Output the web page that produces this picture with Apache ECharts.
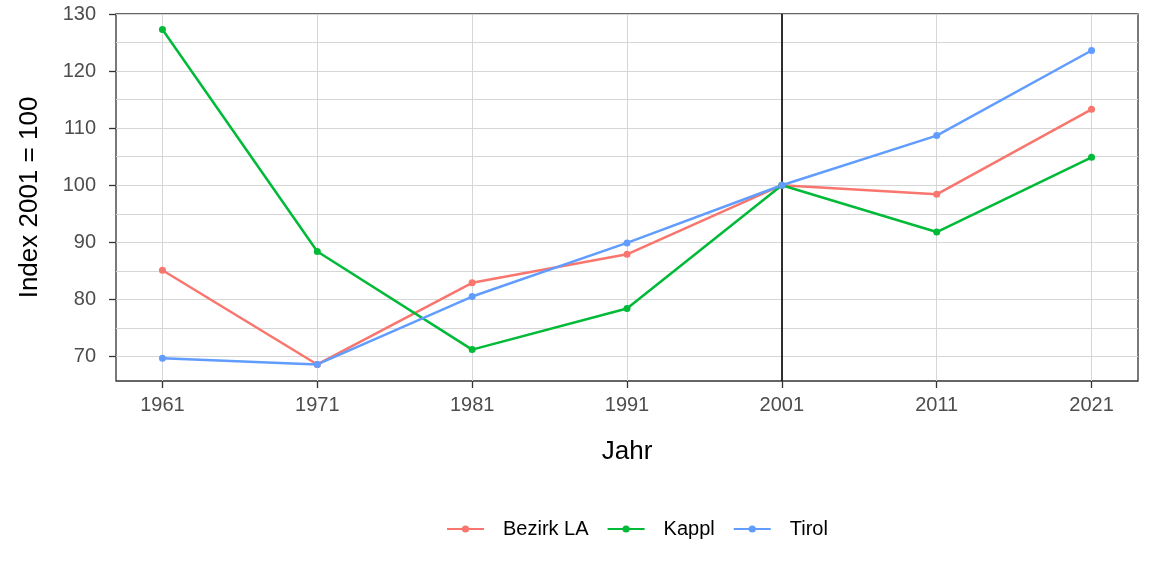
<!DOCTYPE html>
<html>
<head>
<meta charset="utf-8">
<script src="https://cdn.jsdelivr.net/npm/echarts@6/dist/echarts.min.js"></script>
<style>html,body{margin:0;padding:0;background:#fff}#c{width:1152px;height:576px}</style>
</head>
<body>
<div id="c"></div>
<script>
const years = [1961, 1971, 1981, 1991, 2001, 2011, 2021];
const bezirkLA = [85.1, 68.6, 82.9, 87.9, 100, 98.4, 113.3];
const kappl = [127.3, 88.4, 71.2, 78.4, 100, 91.8, 104.9];
const tirol = [69.7, 68.6, 80.5, 89.9, 100, 108.7, 123.6];
const seriesNames = ['Bezirk LA', 'Kappl', 'Tirol'];
const yTicks = [70, 80, 90, 100, 110, 120, 130];
const yGrid = [70, 75, 80, 85, 90, 95, 100, 105, 110, 115, 120, 125, 130];
const refYear = 2001;

const colors = ['#F8766D', '#00BA38', '#619CFF'];
const font = "'Liberation Sans', Arial, sans-serif";
const chart = echarts.init(document.getElementById('c'), null, {renderer: 'canvas'});

function mk(name, vals, i) {
  return {
    name: name, type: 'line', xAxisIndex: 0, yAxisIndex: 0,
    data: years.map((y, k) => [y, vals[k]]),
    symbol: 'circle', symbolSize: 7, showSymbol: true,
    lineStyle: {width: 2.5, color: colors[i]},
    itemStyle: {color: colors[i]},
    emphasis: {disabled: true}, animation: false, z: 3
  };
}
const series = [mk(seriesNames[0], bezirkLA, 0), mk(seriesNames[1], kappl, 1), mk(seriesNames[2], tirol, 2)];
series[0].markLine = {
  silent: true, symbol: 'none', animation: false, z: 2,
  label: {show: false},
  lineStyle: {color: '#000', width: 1.6, type: 'solid'},
  data: [{xAxis: refYear}]
};

chart.setOption({
  backgroundColor: '#fff',
  animation: false,
  color: colors,
  grid: {left: 116, right: 14, top: 14, bottom: 195, show: true, borderColor: '#333', borderWidth: 1.3, containLabel: false},
  legend: {
    data: seriesNames, left: 441, top: 514,
    itemWidth: 37, itemHeight: 9, itemGap: 18,
    textStyle: {fontFamily: font, fontSize: 20, color: '#000', padding: [0, 0, 0, 14]}
  },
  xAxis: [{
    type: 'value', min: 1958, max: 2024,
    name: 'Jahr', nameLocation: 'middle', nameGap: 58,
    nameTextStyle: {fontFamily: font, fontSize: 26, color: '#000'},
    axisLine: {show: false},
    axisTick: {show: true, length: 7, lineStyle: {color: '#333', width: 1.3}, customValues: years},
    axisLabel: {show: true, customValues: years, margin: 14, fontFamily: font, fontSize: 20, color: '#4d4d4d', formatter: v => String(v)},
    splitLine: {show: true, lineStyle: {color: '#d6d6d6', width: 1}}
  }],
  yAxis: [{
    type: 'value', min: 65.7, max: 130,
    name: 'Index 2001 = 100', nameLocation: 'middle', nameGap: 73,
    nameTextStyle: {fontFamily: font, fontSize: 26, color: '#000'},
    axisLine: {show: false},
    axisTick: {show: true, length: 7, lineStyle: {color: '#333', width: 1.3}, customValues: yTicks},
    axisLabel: {show: true, customValues: yTicks, margin: 20, fontFamily: font, fontSize: 20, color: '#4d4d4d'},
    splitLine: {show: false}
  }, {
    type: 'value', min: 65.7, max: 130, position: 'left',
    axisLine: {show: false}, axisTick: {show: false, customValues: yGrid},
    axisLabel: {show: false, customValues: yGrid},
    splitLine: {show: true, lineStyle: {color: '#d6d6d6', width: 1}}
  }],
  series: series
});
</script>
</body>
</html>
